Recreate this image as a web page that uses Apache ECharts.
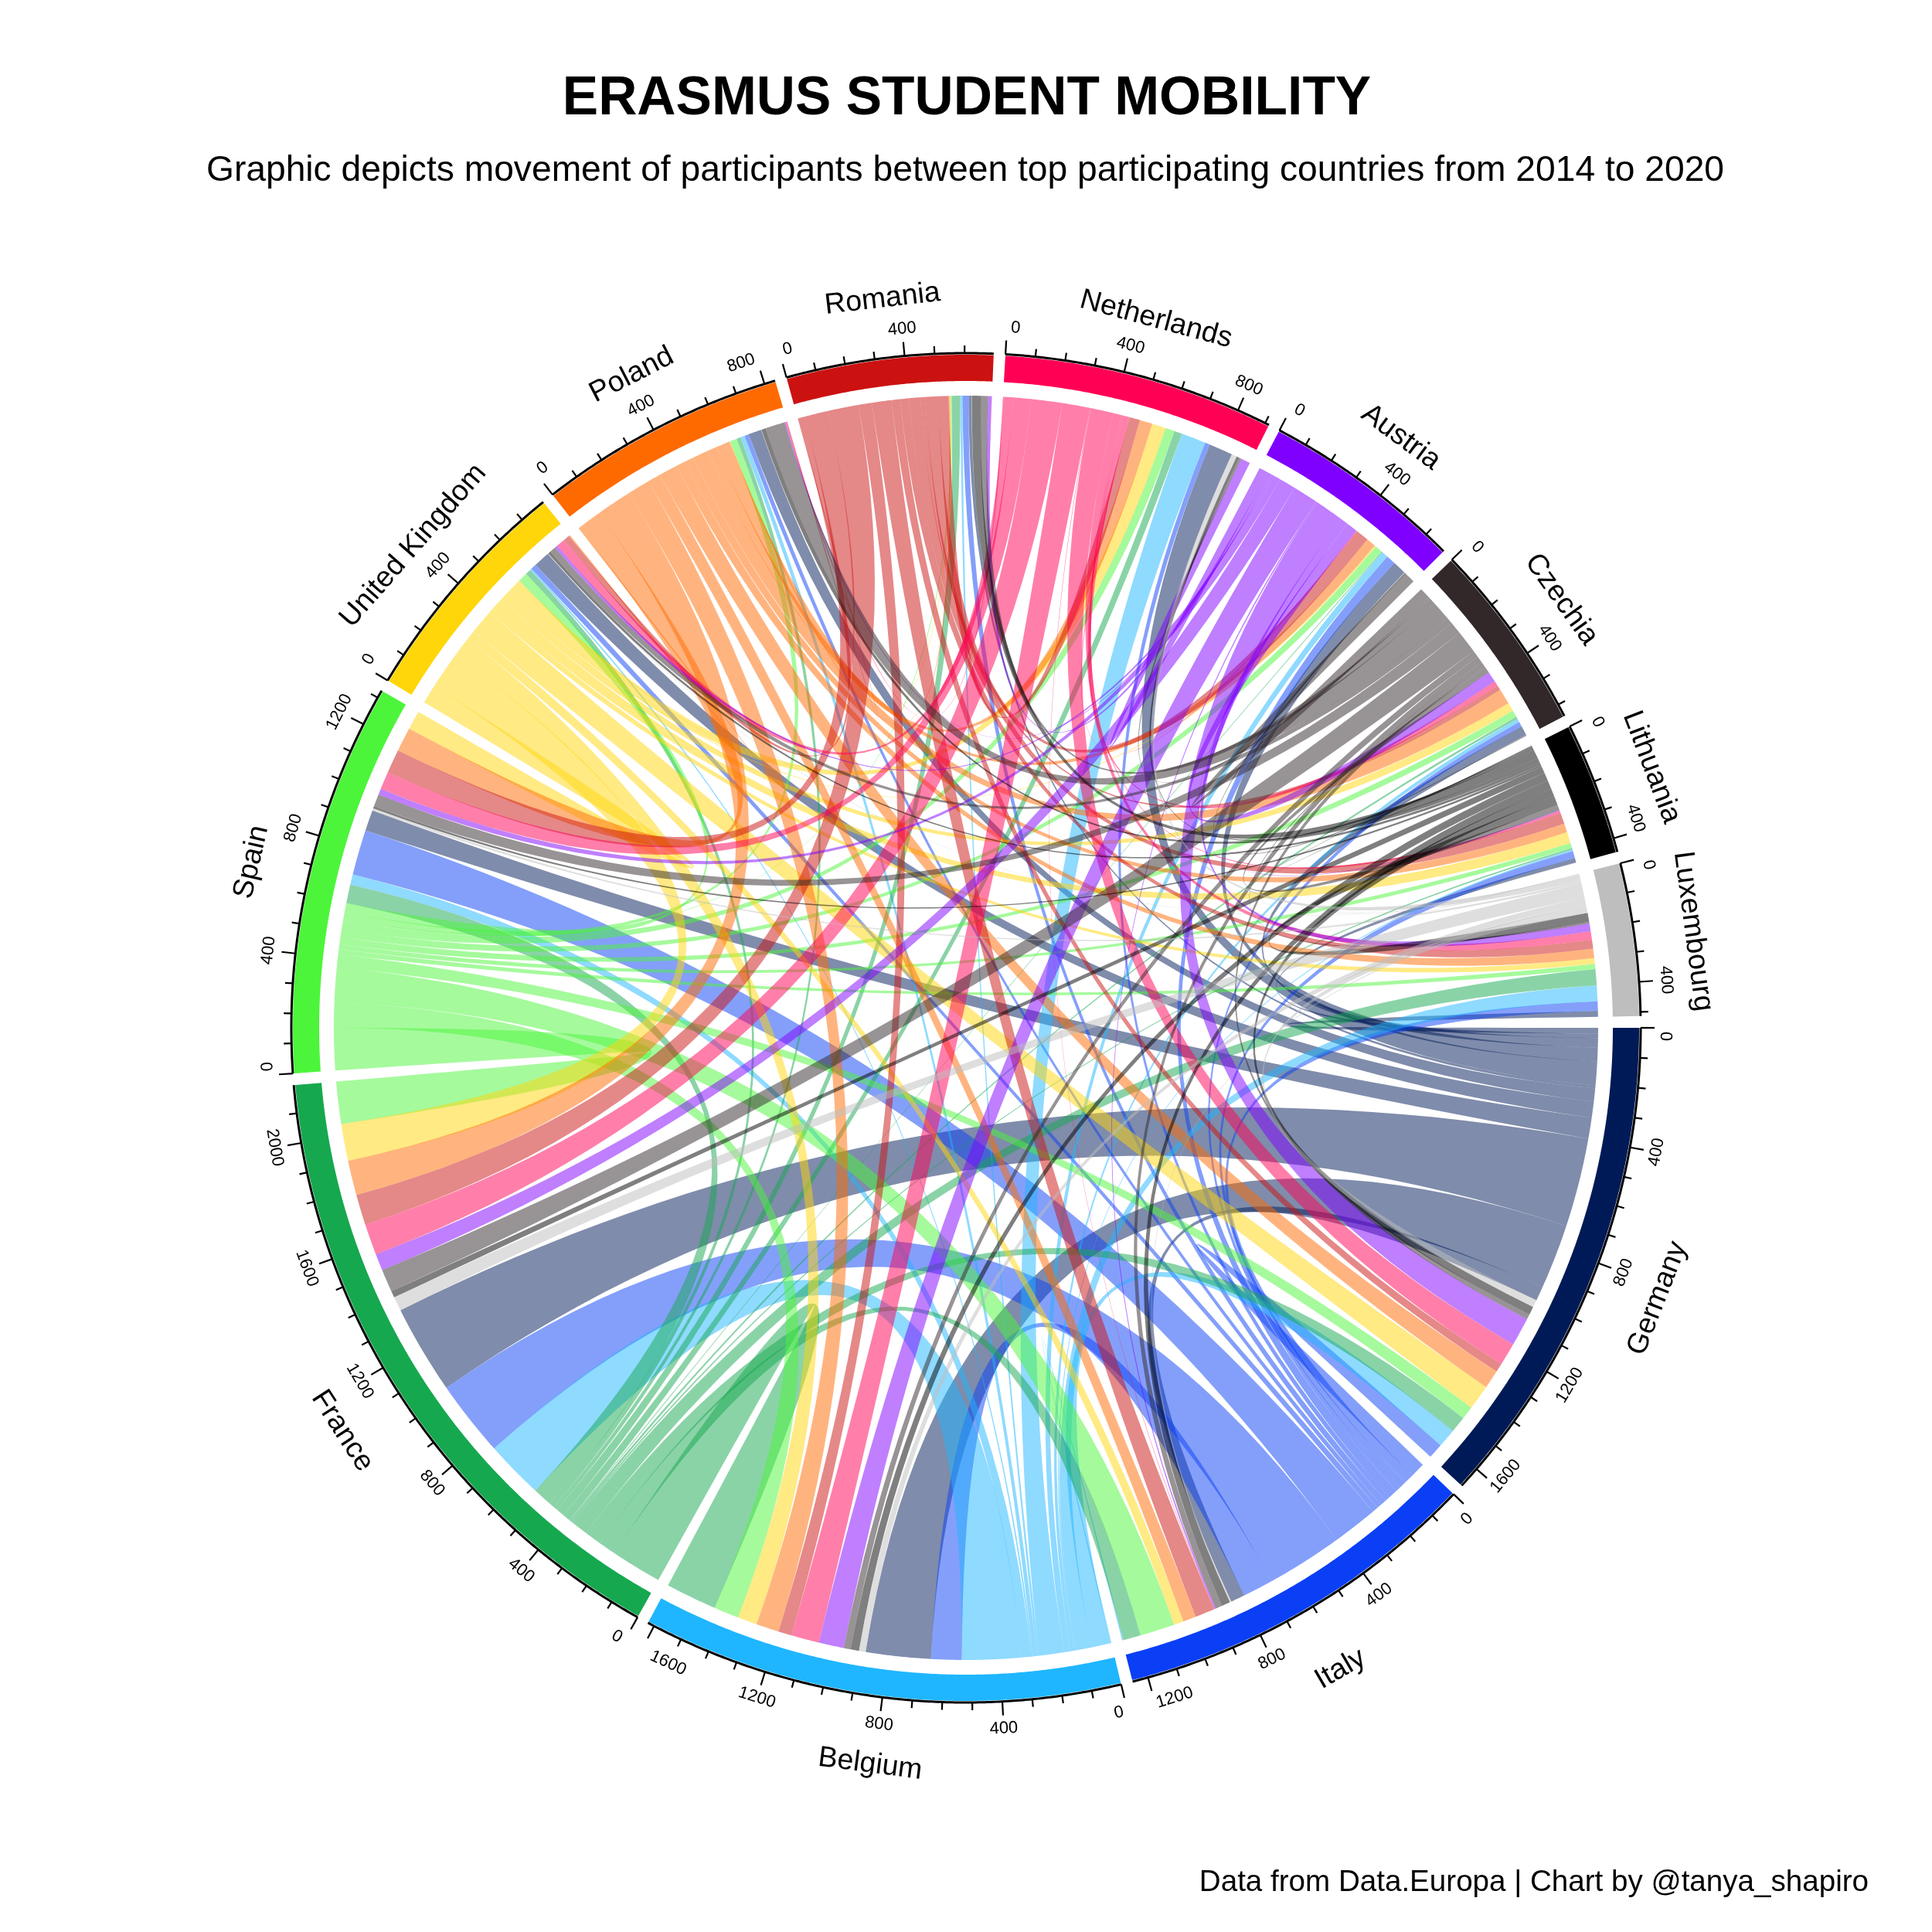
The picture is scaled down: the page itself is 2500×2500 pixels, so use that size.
<!DOCTYPE html>
<html><head><meta charset="utf-8">
<style>html,body{margin:0;padding:0;background:#fff}#c{width:2500px;height:2500px}</style>
<script src="https://cdn.jsdelivr.net/npm/echarts@6/dist/echarts.min.js"></script></head>
<body><div id="c"></div>
<script>
const countries = ["Germany","Italy","Belgium","France","Spain","United Kingdom","Poland","Romania","Netherlands","Austria","Czechia","Lithuania","Luxembourg"];
const colors = ["#001a57","#0a3ff5","#1fb6ff","#16a84f","#4cf53a","#ffd60a","#ff6a00","#cc1111","#ff0055","#7f00ff","#32282a","#000000","#bebebe"];
// participants sent from each country, destinations in the order of `countries`
const fromGermany     = [0,51,233,320,75,58,47,11,85,49,34,16,21];
const fromItaly       = [54,0,110,274,163,21,16,22,18,34,18,26,34];
const fromBelgium     = [67,5,0,210,37,6,15,8,89,24,13,5,57];
const fromFrance      = [59,63,184,0,67,20,15,30,28,3,8,6,58];
const fromSpain       = [47,125,90,152,0,34,25,4,33,27,25,18,18];
const fromUK          = [90,35,70,133,69,0,2,3,50,5,31,41,21];
const fromPoland      = [67,47,82,125,87,5,0,5,46,34,56,32,34];
const fromRomania     = [31,70,48,110,86,22,3,0,37,46,17,40,32];
const fromNetherlands = [82,2,101,112,63,32,4,1,0,4,18,8,30];
const fromAustria     = [102,5,90,60,22,10,4,13,34,0,39,3,28];
const fromCzechia     = [18,24,25,82,44,22,70,24,8,38,0,20,6];
const fromLithuania   = [30,31,30,24,8,10,15,33,10,5,2,0,32];
const fromLuxembourg  = [27,5,24,51,8,2,1,1,19,2,1,2,0];
const titleText = "ERASMUS STUDENT MOBILITY";
const subtitleText = "Graphic depicts movement of participants between top participating countries from 2014 to 2020";
const captionText = "Data from Data.Europa | Chart by @tanya_shapiro";

const matrix = [fromGermany,fromItaly,fromBelgium,fromFrance,fromSpain,fromUK,fromPoland,fromRomania,fromNetherlands,fromAustria,fromCzechia,fromLithuania,fromLuxembourg];
const n = countries.length, GAP = 1, FONT = '"Liberation Sans", Arial, sans-serif';
const R_LINK = 818, R_T0 = 837, R_T1 = 871, R_AX = 873;
const outT = matrix.map(r => r.reduce((a,b)=>a+b,0));
const inT = countries.map((_,j)=>matrix.reduce((a,r)=>a+r[j],0));
const size = outT.map((v,i)=>v+inT[i]);
const total = size.reduce((a,b)=>a+b,0);
const deg = (360 - n*GAP)/total;
const start = []; { let a = 0; for (let i=0;i<n;i++){ start.push(a); a += size[i]*deg + GAP; } }
const outSlot = {}, inSlot = {};
for (let i=0;i<n;i++){
  let p = start[i];
  for (let k=1;k<n;k++){ const j=(i-k+n)%n; const w=matrix[i][j]*deg; outSlot[i+'-'+j]=[p,p+w]; p+=w; }
  for (let k=1;k<n;k++){ const j=(i-k+n)%n; const w=matrix[j][i]*deg; inSlot[j+'-'+i]=[p,p+w]; p+=w; }
}
const links = [];
for (let i=0;i<n;i++) for (let j=0;j<n;j++) if (matrix[i][j]>0) links.push([i,j,matrix[i][j]]);
const sectors = countries.map((c,i)=>[i,size[i]]);
const ticks = [];
for (let i=0;i<n;i++) for (let v=0;v<=size[i];v+=100) ticks.push([i,v]);

function arc(api,r,a,b){ const pts=[]; const s=Math.max(2,Math.ceil(Math.abs(b-a)/0.25)); for(let k=0;k<=s;k++) pts.push(api.coord([r,a+(b-a)*k/s])); return pts; }
function edge(api,p,q){
  const P0=api.coord([R_LINK,p]),P2=api.coord([R_LINK,q]),C=api.coord([0,0]);
  const pts=[]; for(let k=1;k<40;k++){const t=k/40,u=1-t; pts.push([u*u*P0[0]+2*u*t*C[0]+t*t*P2[0],u*u*P0[1]+2*u*t*C[1]+t*t*P2[1]]);}
  return pts;
}
function rot(a){ a=(a%360+360)%360; const dir=(a>180)?a+90:a-90; return -dir*Math.PI/180; }

const renderLink=(p,api)=>{
  const d=links[p.dataIndex],key=d[0]+'-'+d[1],A=outSlot[key],B=inSlot[key];
  const pts=[].concat(arc(api,R_LINK,A[0],A[1]),edge(api,A[1],B[0]),arc(api,R_LINK,B[0],B[1]),edge(api,B[1],A[0]));
  return {type:'polygon',shape:{points:pts},style:{fill:colors[d[0]],opacity:0.5}};
};
const renderSector=(p,api)=>{
  const i=p.dataIndex,a=start[i],b=a+size[i]*deg,mid=(a+b)/2,m=(mid%360);
  const pts=arc(api,R_T1,a,b).concat(arc(api,R_T0,b,a));
  const lp=api.coord([m<180?961:949,m]);
  return {type:'group',children:[
    {type:'polygon',shape:{points:pts},style:{fill:colors[i]}},
    {type:'polyline',shape:{points:arc(api,R_AX,a,b)},style:{stroke:'#000',lineWidth:3,fill:null}},
    {type:'text',x:lp[0],y:lp[1],rotation:rot(m),style:{text:countries[i],fill:'#000',font:'37.5px '+FONT,align:'center',verticalAlign:'middle',textAlign:'center',textVerticalAlign:'middle'}}
  ]};
};
const renderTick=(p,api)=>{
  const t=ticks[p.dataIndex],a=start[t[0]]+t[1]*deg,major=t[1]%400===0;
  const P=api.coord([R_AX,a]),Q=api.coord([R_AX+(major?18:10),a]);
  const ch=[{type:'line',shape:{x1:P[0],y1:P[1],x2:Q[0],y2:Q[1]},style:{stroke:'#000',lineWidth:2.2}}];
  if(major){
    const label=String(t[1]),room=(size[t[0]]-t[1])*deg,need=label.length*0.75;
    const la=t[1]===0?a+0.7:a-Math.max(0,need-room);
    const L=api.coord([908,la]);
    ch.push({type:'text',x:L[0],y:L[1],rotation:rot(la),style:{text:label,fill:'#000',font:'22px '+FONT,align:'center',verticalAlign:'middle',textAlign:'center',textVerticalAlign:'middle'}});}
  return {type:'group',children:ch};
};
const chart=echarts.init(document.getElementById('c'),null,{renderer:'canvas',width:2500,height:2500});
chart.setOption({
  animation:false,backgroundColor:'#fff',
  title:[
    {text:titleText,left:1246,top:124,textAlign:'center',textVerticalAlign:'middle',textStyle:{fontFamily:FONT,fontWeight:'bold',fontSize:69.5,color:'#000'}},
    {text:subtitleText,left:1244,top:216,textAlign:'center',textVerticalAlign:'middle',textStyle:{fontFamily:FONT,fontWeight:'normal',fontSize:46.2,color:'#000'}},
    {text:captionText,left:2413,top:2431,textAlign:'right',textVerticalAlign:'middle',textStyle:{fontFamily:FONT,fontWeight:'normal',fontSize:38.6,color:'#000'}}
  ],
  polar:{center:[1250,1330],radius:1000},
  angleAxis:{type:'value',min:0,max:360,startAngle:0,clockwise:true,show:false},
  radiusAxis:{type:'value',min:0,max:1000,show:false},
  series:[
    {type:'custom',coordinateSystem:'polar',silent:true,data:links,renderItem:renderLink},
    {type:'custom',coordinateSystem:'polar',silent:true,data:sectors,renderItem:renderSector},
    {type:'custom',coordinateSystem:'polar',silent:true,data:ticks,renderItem:renderTick}
  ]
});
</script></body></html>
